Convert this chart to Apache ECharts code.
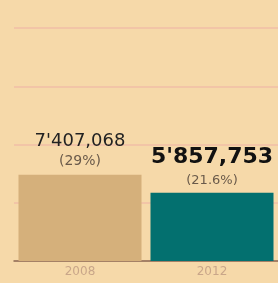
<!DOCTYPE html>
<html>
<head>
<meta charset="utf-8">
<script src="https://cdn.jsdelivr.net/npm/echarts@6/dist/echarts.min.js"></script>
<style>
  html, body { margin: 0; padding: 0; background: #f6d9a9; }
  #chart { width: 278px; height: 283px; }
</style>
</head>
<body>
<div id="chart"></div>
<script>
// chart data
const years = ['2008', '2012'];
const values = [7407068, 5857753];
const valueLabels = ["7'407,068", "5'857,753"];
const shareLabels = ['(29%)', '(21.6%)'];
const barColors = ['#d5b07b', '#03706f'];

const chart = echarts.init(document.getElementById('chart'));

const option = {
  backgroundColor: '#f6d9a9',
  animation: false,
  grid: {
    left: 14,
    right: 0,
    top: 28,
    bottom: 22
  },
  xAxis: {
    type: 'category',
    data: years,
    axisTick: { show: false },
    axisLine: {
      lineStyle: { color: '#8c6b52', width: 1.5 }
    },
    axisLabel: {
      color: '#c9a689',
      fontFamily: 'DejaVu Sans',
      fontSize: 12,
      margin: 5
    }
  },
  yAxis: {
    type: 'value',
    min: 0,
    max: 20000000,
    interval: 5000000,
    axisLabel: { show: false },
    axisLine: { show: false },
    axisTick: { show: false },
    splitLine: {
      lineStyle: { color: '#f2c5a7', width: 2 }
    }
  },
  series: [
    {
      type: 'bar',
      barWidth: 123,
      data: values.map((v, i) => ({
        value: v,
        itemStyle: { color: barColors[i] },
        label: {
          show: true,
          position: 'top',
          distance: i === 0 ? 3 : 2,
          formatter: i === 0
            ? `{a|${valueLabels[i]}}\n{b|${shareLabels[i]}}`
            : `{c|${valueLabels[i]}}\n{d|${shareLabels[i]}}`,
          rich: {
            a: { fontFamily: 'DejaVu Sans', fontSize: 18, color: '#222', lineHeight: 21 },
            b: { fontFamily: 'DejaVu Sans', fontSize: 14, color: '#6a5a4a', lineHeight: 20 },
            c: { fontFamily: 'DejaVu Sans', fontSize: 22, fontWeight: 'bold', color: '#111', lineHeight: 27 },
            d: { fontFamily: 'DejaVu Sans', fontSize: 13, color: '#6a5a4a', lineHeight: 20 }
          }
        }
      }))
    }
  ]
};

chart.setOption(option);
</script>
</body>
</html>
